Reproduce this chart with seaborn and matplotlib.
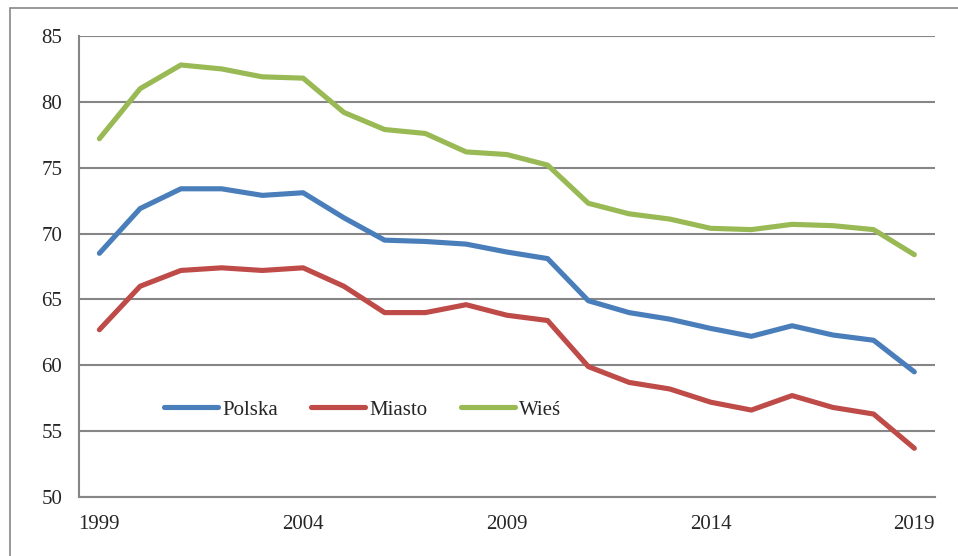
import matplotlib
matplotlib.use("Agg")
from matplotlib import pyplot as plt
from matplotlib.patches import Rectangle
import numpy as np
import pandas as pd
import seaborn as sns

years = list(range(1999, 2020))
polska = [68.5, 71.9, 73.4, 73.4, 72.9, 73.1, 71.2, 69.5, 69.4, 69.2, 68.6,
          68.1, 64.9, 64.0, 63.5, 62.8, 62.2, 63.0, 62.3, 61.9, 59.5]
miasto = [62.7, 66.0, 67.2, 67.4, 67.2, 67.4, 66.0, 64.0, 64.0, 64.6, 63.8,
          63.4, 59.9, 58.7, 58.2, 57.2, 56.6, 57.7, 56.8, 56.3, 53.7]
wies = [77.2, 81.0, 82.8, 82.5, 81.9, 81.8, 79.2, 77.9, 77.6, 76.2, 76.0,
        75.2, 72.3, 71.5, 71.1, 70.4, 70.3, 70.7, 70.6, 70.3, 68.4]
series_names = ["Polska", "Miasto", "Wieś"]
colors = ["#4A7EBB", "#BE4B48", "#98B954"]
tick_years = [1999, 2004, 2009, 2014, 2019]

df = pd.DataFrame({"rok": years, "Polska": polska, "Miasto": miasto, "Wieś": wies})
df["idx"] = np.arange(len(years))
long = df.melt(id_vars=["rok", "idx"], value_vars=series_names,
               var_name="seria", value_name="wartosc")

sns.set_style("white")
plt.rcParams["font.family"] = ["Liberation Serif", "DejaVu Serif"]
fs = 15

fig = plt.figure(figsize=(9.58, 5.56), dpi=100)
ax = fig.add_axes([79 / 958, 1 - 497 / 556, 855.7 / 958, 461 / 556])

sns.lineplot(data=long, x="idx", y="wartosc", hue="seria", hue_order=series_names,
             palette=colors, linewidth=3.7, ax=ax, legend=False)
for ln in ax.get_lines():
    ln.set_solid_capstyle("round")
    ln.set_solid_joinstyle("round")

grid_c = "#868686"
ax.set_xlim(-0.5, len(years) - 0.5)
ax.set_ylim(50, 85)
ax.set_yticks(range(50, 90, 5))
ax.yaxis.grid(True, color=grid_c, linewidth=1.5)
ax.set_axisbelow(True)

ax.set_xticks([years.index(y) for y in tick_years])
ax.set_xticklabels([str(y) for y in tick_years])
ax.set_xticks(np.arange(-0.5, len(years), 1.0), minor=True)
ax.tick_params(axis="x", which="major", length=0, pad=13, labelsize=fs)
ax.tick_params(axis="x", which="minor", length=5, width=1.5, color=grid_c, direction="out")
ax.tick_params(axis="y", length=6, width=1.5, color=grid_c, direction="out", pad=6, labelsize=fs)
ax.set_xlabel("")
ax.set_ylabel("")

for s in ["top", "right"]:
    ax.spines[s].set_visible(False)
for s in ["left", "bottom"]:
    ax.spines[s].set_color(grid_c)
    ax.spines[s].set_linewidth(1.5)

handles = [plt.Line2D([], [], color=c, linewidth=3.7, solid_capstyle="round") for c in colors]
ax.legend(handles, series_names, loc="center left", bbox_to_anchor=(0.077, 0.189),
          ncol=3, frameon=False, fontsize=fs, handlelength=2.6, handletextpad=0.2,
          columnspacing=1.6)

fig.patches.append(Rectangle((10 / 958, -0.1), 1.2, 1.1 - 8 / 556, transform=fig.transFigure,
                             fill=False, edgecolor=grid_c, linewidth=1.2))

fig.savefig("out.png", dpi=100)
